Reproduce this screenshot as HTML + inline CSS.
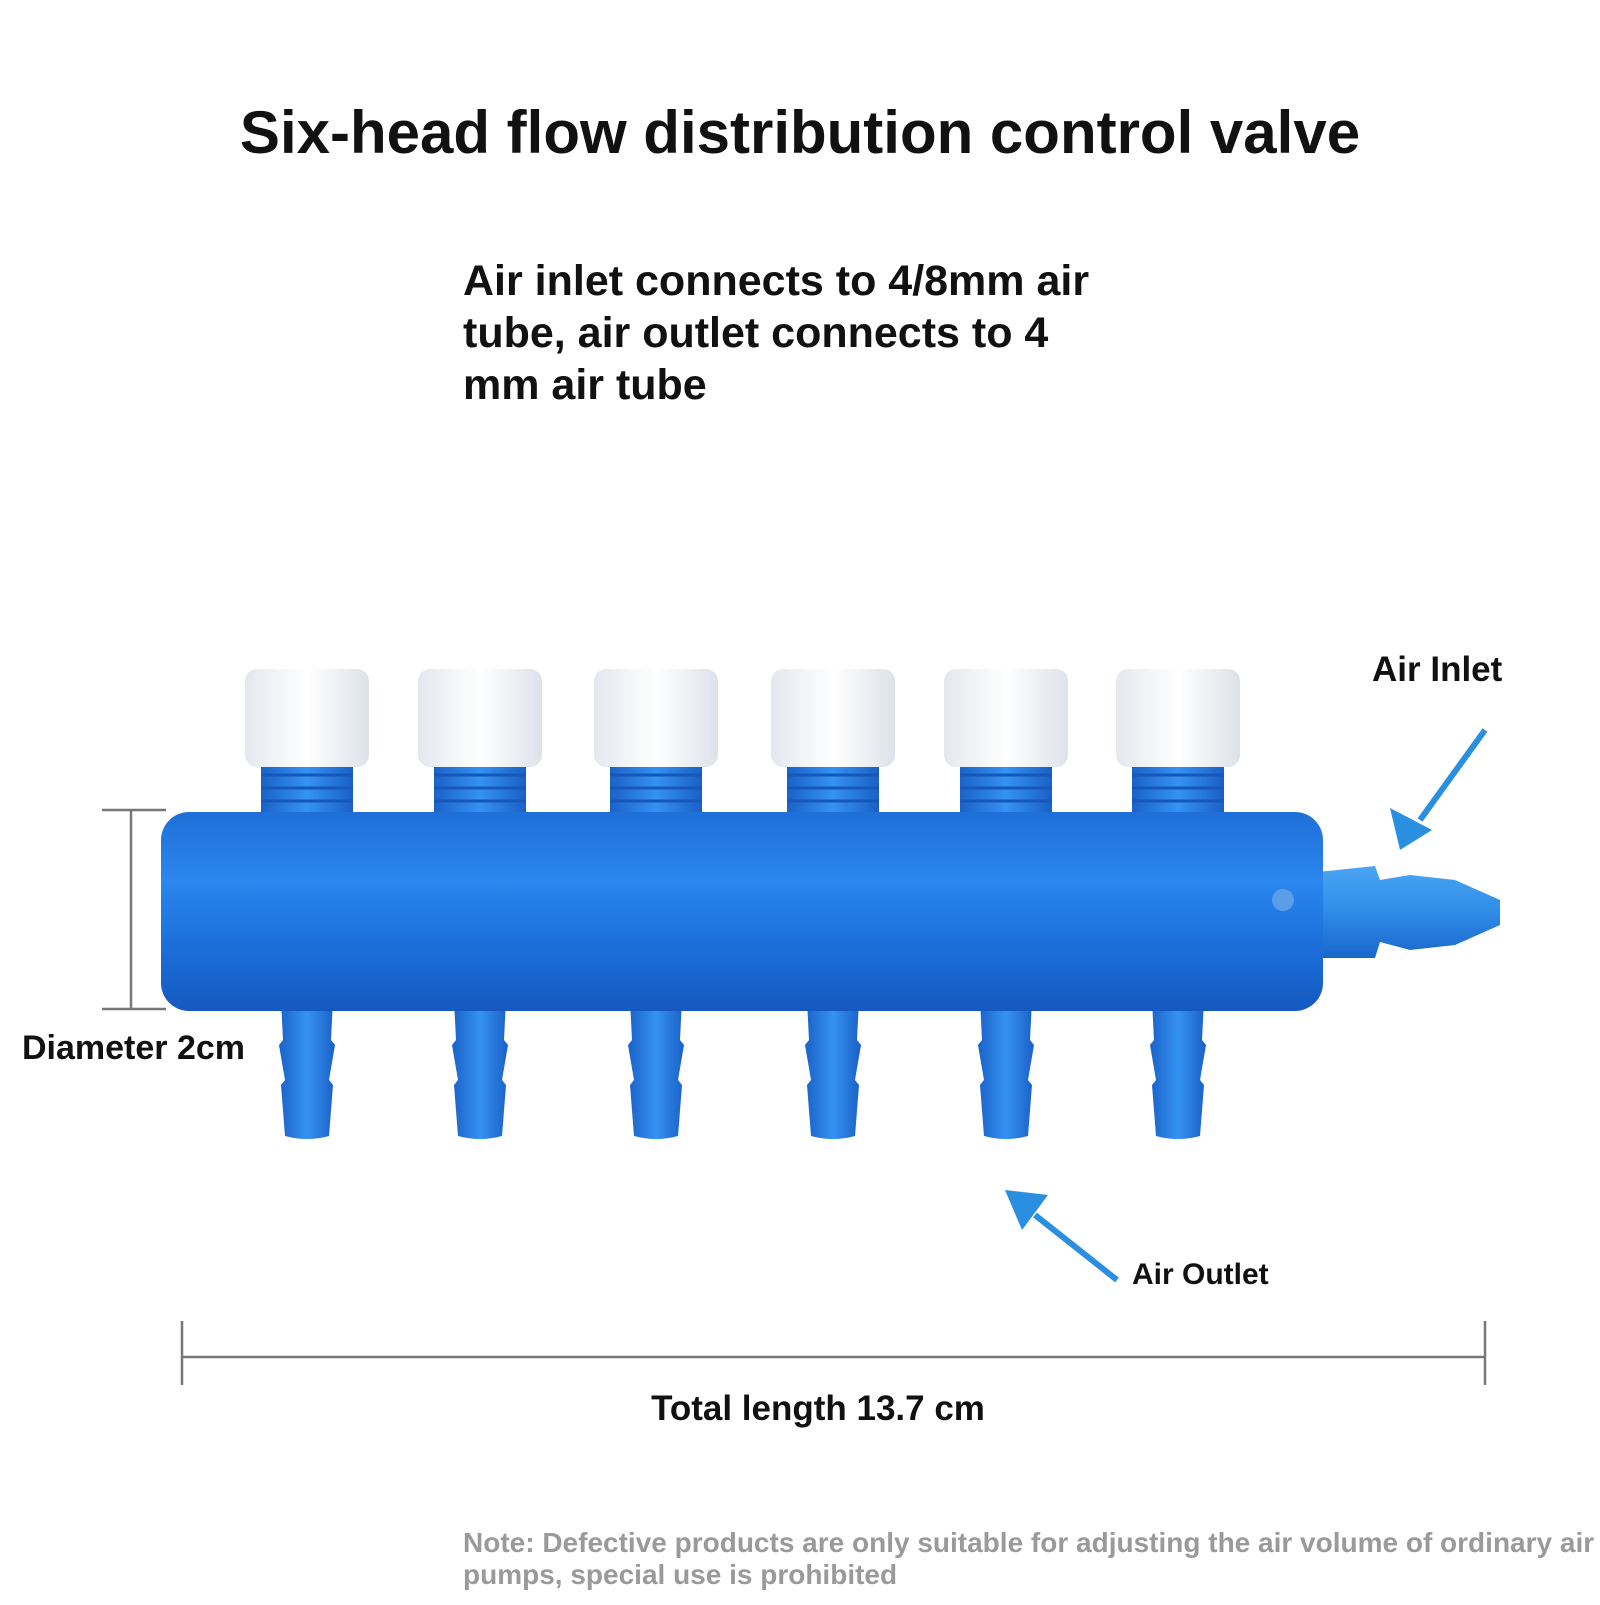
<!DOCTYPE html>
<html><head><meta charset="utf-8"><style>
body{margin:0;width:1600px;height:1600px;background:#fff;overflow:hidden;font-family:"Liberation Sans",sans-serif}
</style></head><body>
<svg width="1600" height="1600" xmlns="http://www.w3.org/2000/svg" font-family="Liberation Sans, sans-serif" font-weight="bold">
<defs>
<linearGradient id="bd" x1="0" y1="0" x2="0" y2="1">
<stop offset="0" stop-color="#1f6fd8"/><stop offset="0.35" stop-color="#2b86ee"/><stop offset="0.6" stop-color="#1e74e0"/><stop offset="1" stop-color="#1558c0"/></linearGradient>
<linearGradient id="st" x1="0" y1="0" x2="1" y2="0">
<stop offset="0" stop-color="#1a62c8"/><stop offset="0.5" stop-color="#3592f2"/><stop offset="1" stop-color="#1a60c6"/></linearGradient>
<linearGradient id="cp" x1="0" y1="0" x2="1" y2="0">
<stop offset="0" stop-color="#e4e8ee"/><stop offset="0.5" stop-color="#ffffff"/><stop offset="1" stop-color="#dde2ea"/></linearGradient>
<linearGradient id="nz" x1="0" y1="0" x2="0" y2="1">
<stop offset="0" stop-color="#4aa6f2"/><stop offset="0.5" stop-color="#2f8ce8"/><stop offset="1" stop-color="#1a66cc"/></linearGradient>
<g id="u">
<rect x="-46" y="760" width="92" height="60" fill="url(#st)"/>
<g stroke="#1657b8" stroke-width="3"><line x1="-46" y1="775" x2="46" y2="775"/><line x1="-46" y1="788" x2="46" y2="788"/><line x1="-46" y1="801" x2="46" y2="801"/></g>
<rect x="-62" y="669" width="124" height="98" rx="12" fill="url(#cp)"/>
<path d="M-26 1000 L26 1000 L24 1040 L28 1045 L22 1080 L26 1085 L22 1136 Q0 1142 -22 1136 L-26 1085 L-22 1080 L-28 1045 L-24 1040 Z" fill="url(#st)"/>
</g>
</defs>
<text x="800" y="153" font-size="60" text-anchor="middle" fill="#111">Six-head flow distribution control valve</text>
<g font-size="43" fill="#111">
<text x="463" y="295">Air inlet connects to 4/8mm air</text>
<text x="463" y="347">tube, air outlet connects to 4</text>
<text x="463" y="399">mm air tube</text>
</g>
<use href="#u" x="307"/><use href="#u" x="480"/><use href="#u" x="656"/><use href="#u" x="833"/><use href="#u" x="1006"/><use href="#u" x="1178"/>
<path d="M1318 872 L1375 866 L1380 880 L1410 875 L1455 880 L1500 900 L1500 925 L1455 945 L1410 950 L1380 942 L1375 958 L1318 958 Z" fill="url(#nz)"/>
<rect x="161" y="812" width="1162" height="199" rx="28" fill="url(#bd)"/>
<circle cx="1283" cy="900" r="11" fill="#5a9ee8"/>
<g stroke="#777" stroke-width="2.5" fill="none">
<line x1="131" y1="810" x2="131" y2="1009"/><line x1="102" y1="810" x2="166" y2="810"/><line x1="102" y1="1009" x2="166" y2="1009"/>
<line x1="182" y1="1357" x2="1485" y2="1357"/><line x1="182" y1="1321" x2="182" y2="1385"/><line x1="1485" y1="1321" x2="1485" y2="1385"/>
</g>
<text x="22" y="1059" font-size="34" fill="#111">Diameter 2cm</text>
<text x="818" y="1420" font-size="35" fill="#111" text-anchor="middle">Total length 13.7 cm</text>
<g stroke="#2a8fe0" stroke-width="6" fill="#2a8fe0">
<line x1="1485" y1="730" x2="1420" y2="820"/>
<polygon points="1400,850 1390,808 1432,830" stroke="none"/>
<line x1="1117" y1="1280" x2="1035" y2="1215"/>
<polygon points="1005,1190 1048,1195 1022,1230" stroke="none"/>
</g>
<text x="1372" y="681" font-size="35" fill="#111">Air Inlet</text>
<text x="1132" y="1284" font-size="30" fill="#111">Air Outlet</text>
<g font-size="28" fill="#9a9a9a">
<text x="463" y="1552">Note: Defective products are only suitable for adjusting the air volume of ordinary air</text>
<text x="463" y="1584">pumps, special use is prohibited</text>
</g>
</svg>
</body></html>
